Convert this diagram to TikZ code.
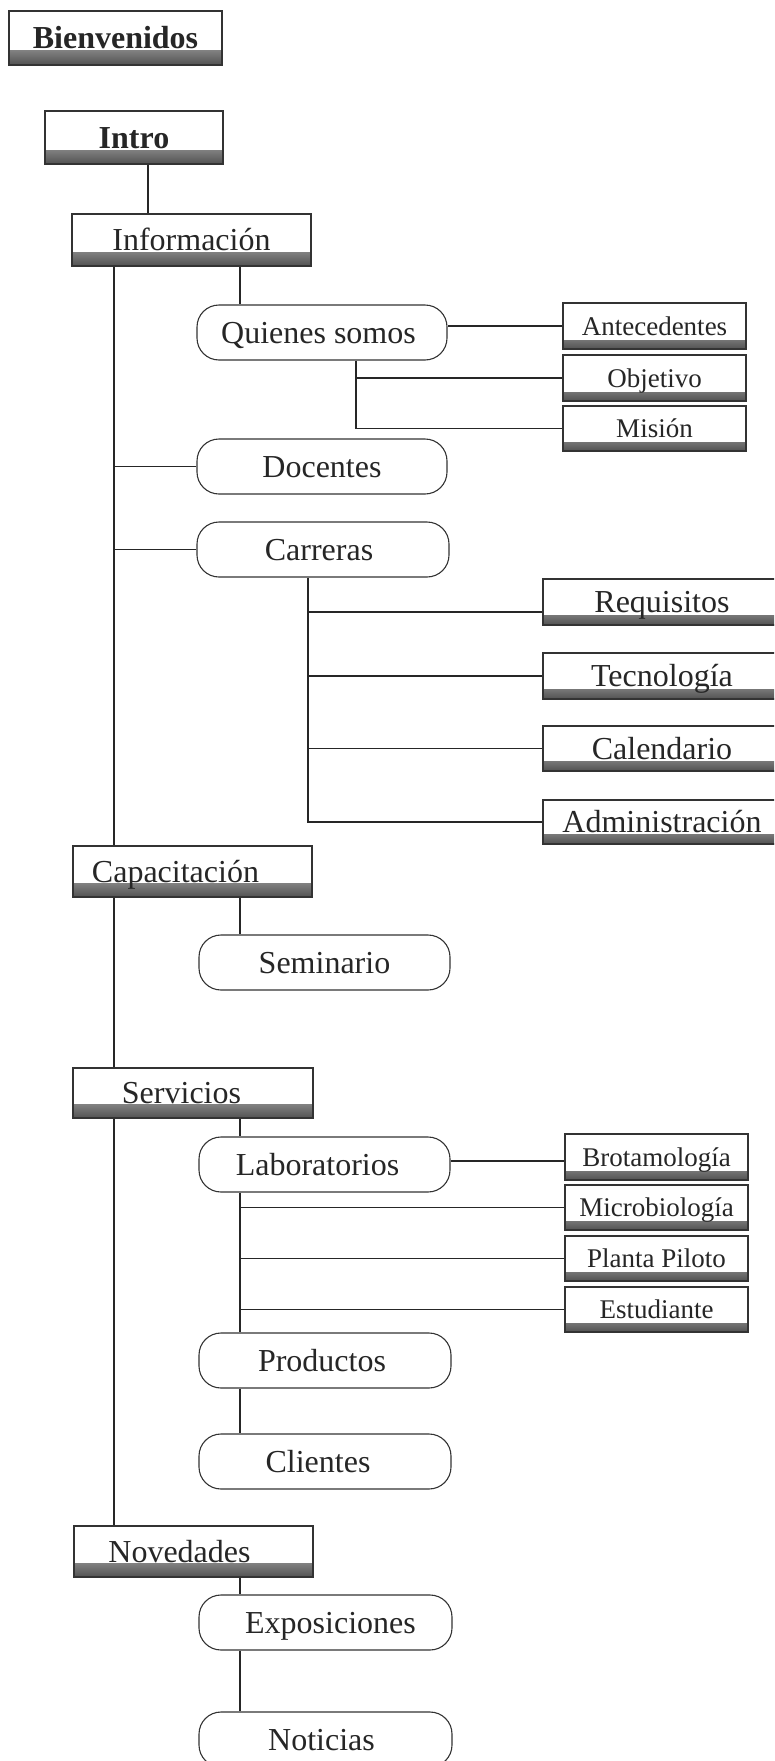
\documentclass[tikz,border=0pt]{standalone}
\usepackage{fontspec}
\setmainfont{Liberation Serif}
\begin{document}
\begin{tikzpicture}[x=1pt,y=-1pt,
  base/.style={draw=black!80, line width=1.1pt, fill=white, inner sep=0pt, text=black!85, anchor=center},
  big/.style={font=\fontsize{32}{34}\selectfont, text height=21pt, text depth=0pt},
  bigb/.style={font=\fontsize{32}{34}\selectfont\bfseries, text height=21pt, text depth=0pt},
  small/.style={font=\fontsize{27}{29}\selectfont, text height=18pt, text depth=0pt},
  sbox/.style={base, rectangle, path picture={\shade[top color=white, bottom color=black!68] (path picture bounding box.south west) rectangle ([yshift=#1]path picture bounding box.south east);}},
  sbox/.default=14pt,
  pill/.style={base, rectangle, rounded corners=22pt},
  wire/.style={draw=black!85, line width=1.6pt},
  dim/.style 2 args={minimum width=#1pt, minimum height=#2pt}
]
\useasboundingbox (0,0) rectangle (774,1761);
\clip (0,0) rectangle (774,1761);

% top level
\node[sbox, bigb, dim={213}{54}] (bien) at (115.5,38) {Bienvenidos};
\node[sbox, bigb, dim={178}{53}] (intro) at (134,137.5) {Intro};
\node[sbox, big, dim={239}{52}] (info) at (191.5,240) {Información};
\node[sbox, big, dim={239}{51}] (cap) at (192.5,871.5) {Capacitación\kern34pt};
\node[sbox, big, dim={240}{50}] (serv) at (193,1093) {Servicios\kern23pt};
\node[sbox, big, dim={239}{51}] (nov) at (193.5,1551.5) {Novedades\kern28pt};

% pills
\node[pill, big, dim={250}{55}] (qs) at (322,332.5) {Quienes somos\kern7pt};
\node[pill, big, dim={250}{55}] (doc) at (322,466.5) {Docentes};
\node[pill, big, dim={252}{55}] (car) at (323,549.5) {Carreras\kern8pt};
\node[pill, big, dim={251}{55}] (sem) at (324.5,962.5) {Seminario};
\node[pill, big, dim={251}{55}] (lab) at (324.5,1164.5) {Laboratorios\kern14pt};
\node[pill, big, dim={252}{55}] (prod) at (325,1360.5) {Productos\kern6pt};
\node[pill, big, dim={252}{55}] (cli) at (325,1461.5) {Clientes\kern14pt};
\node[pill, big, dim={253}{55}] (expo) at (325.5,1622.5) {\kern10pt Exposiciones};
\node[pill, big, dim={253}{55}] (noti) at (325.5,1739.5) {Noticias\kern8pt};

% small boxes
\node[sbox=9pt, small, dim={183}{46}] (ant) at (654.5,326) {Antecedentes};
\node[sbox=9pt, small, dim={183}{46}] (obj) at (654.5,378) {Objetivo};
\node[sbox=9pt, small, dim={183}{45}] (mis) at (654.5,428.5) {Misión};
\node[sbox=9pt, small, dim={183}{46}] (brot) at (656.5,1157) {Brotamología};
\node[sbox=9pt, small, dim={183}{45}] (mic) at (656.5,1207.5) {Microbiología};
\node[sbox=9pt, small, dim={183}{45}] (pla) at (656.5,1258.5) {Planta Piloto};
\node[sbox=9pt, small, dim={183}{45}] (est) at (656.5,1309.5) {Estudiante};

% Carreras boxes
\node[sbox=10pt, big, dim={238}{46}] (req) at (662,602) {Requisitos};
\node[sbox=10pt, big, dim={238}{46}] (tec) at (662,676) {Tecnología};
\node[sbox=10pt, big, dim={238}{45}] (cal) at (662,748.5) {Calendario};
\node[sbox=10pt, big, dim={238}{44}] (adm) at (662,822) {Administración};

% helper x positions
\coordinate (ix) at (148,0);
\coordinate (trunk) at (114,0);
\coordinate (sub) at (240,0);
\coordinate (qsx) at (356,0);
\coordinate (carx) at (308,0);

% connectors
\draw[wire] (intro.south -| ix) -- (info.north -| ix);
\draw[wire] (info.south -| trunk) -- (cap.north -| trunk);
\draw[wire] (cap.south -| trunk) -- (serv.north -| trunk);
\draw[wire] (serv.south -| trunk) -- (nov.north -| trunk);

\draw[wire] (info.south -| sub) -- (qs.north -| sub);
\draw[wire] (doc.west) -- (doc.west -| trunk);
\draw[wire] (car.west) -- (car.west -| trunk);

\draw[wire] (ant.west) -- (ant.west -| qs.east);
\draw[wire] (qs.south -| qsx) |- (mis.west);
\draw[wire] (obj.west) -- (obj.west -| qsx);

\draw[wire] (car.south -| carx) |- (adm.west);
\draw[wire] ([yshift=-10pt]req.west) -- ([yshift=-10pt]req.west -| carx);
\draw[wire] (tec.west) -- (tec.west -| carx);
\draw[wire] (cal.west) -- (cal.west -| carx);

\draw[wire] (cap.south -| sub) -- (sem.north -| sub);
\draw[wire] (serv.south -| sub) -- (lab.north -| sub);
\draw[wire] ([yshift=-4pt]brot.west) -- ([yshift=-4pt]brot.west -| lab.east);
\draw[wire] (lab.south -| sub) -- (prod.north -| sub);
\draw[wire] (mic.west) -- (mic.west -| sub);
\draw[wire] (pla.west) -- (pla.west -| sub);
\draw[wire] (est.west) -- (est.west -| sub);
\draw[wire] (prod.south -| sub) -- (cli.north -| sub);

\draw[wire] (nov.south -| sub) -- (expo.north -| sub);
\draw[wire] (expo.south -| sub) -- (noti.north -| sub);
\end{tikzpicture}
\end{document}
